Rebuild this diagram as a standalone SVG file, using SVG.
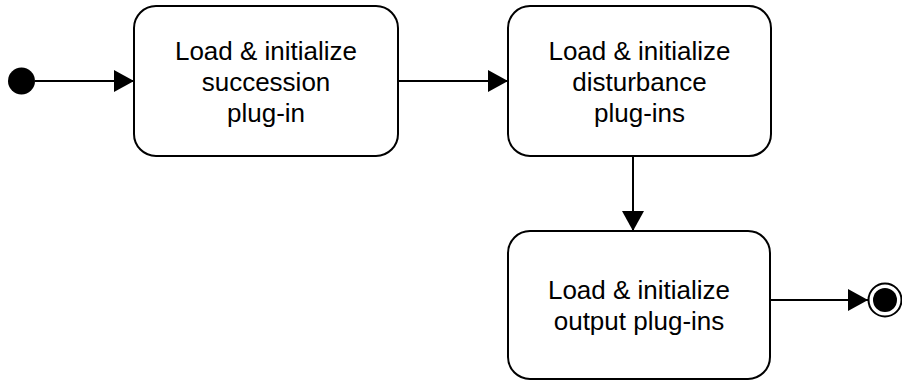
<svg xmlns="http://www.w3.org/2000/svg" width="902" height="381" viewBox="0 0 902 381">
  <style>
    .state { fill: #ffffff; stroke: #000000; stroke-width: 2; }
    .label { font-family: "Liberation Sans", Arial, sans-serif; font-size: 26px; fill: #000000; text-anchor: middle; }
    .edge { stroke: #000000; stroke-width: 2; fill: none; }
  </style>
  <defs>
    <marker id="arrow" viewBox="0 0 20 22" refX="20" refY="11" markerWidth="20" markerHeight="22" markerUnits="userSpaceOnUse" orient="auto">
      <path d="M0,0 L20,11 L0,22 Z" fill="#000000"/>
    </marker>
  </defs>
  <rect width="902" height="381" fill="#ffffff"/>

  <!-- transitions -->
  <g id="connectors">
    <line class="edge" x1="35" y1="81" x2="134" y2="81" marker-end="url(#arrow)"/>
    <line class="edge" x1="398" y1="81" x2="508" y2="81" marker-end="url(#arrow)"/>
    <line class="edge" x1="633" y1="156" x2="633" y2="231" marker-end="url(#arrow)"/>
    <line class="edge" x1="770" y1="300" x2="868" y2="300" marker-end="url(#arrow)"/>
  </g>

  <!-- initial pseudo-state -->
  <g id="start">
    <circle cx="21.5" cy="81" r="13.5" fill="#000000"/>
  </g>

  <g id="load-succession">
    <rect class="state" x="134" y="6" width="264" height="150" rx="22" ry="22"/>
    <text class="label" x="266" y="60">Load &amp; initialize</text>
    <text class="label" x="266" y="91">succession</text>
    <text class="label" x="266" y="122">plug-in</text>
  </g>

  <g id="load-disturbance">
    <rect class="state" x="508" y="6" width="263" height="150" rx="22" ry="22"/>
    <text class="label" x="639.5" y="60">Load &amp; initialize</text>
    <text class="label" x="639.5" y="91">disturbance</text>
    <text class="label" x="639.5" y="122">plug-ins</text>
  </g>

  <g id="load-output">
    <rect class="state" x="508" y="231" width="262" height="148" rx="22" ry="22"/>
    <text class="label" x="639" y="299">Load &amp; initialize</text>
    <text class="label" x="639" y="330">output plug-ins</text>
  </g>

  <!-- final state -->
  <g id="end">
    <circle cx="885" cy="300" r="16.5" fill="#ffffff" stroke="#000000" stroke-width="2"/>
    <circle cx="885" cy="300" r="12" fill="#000000"/>
  </g>
</svg>
